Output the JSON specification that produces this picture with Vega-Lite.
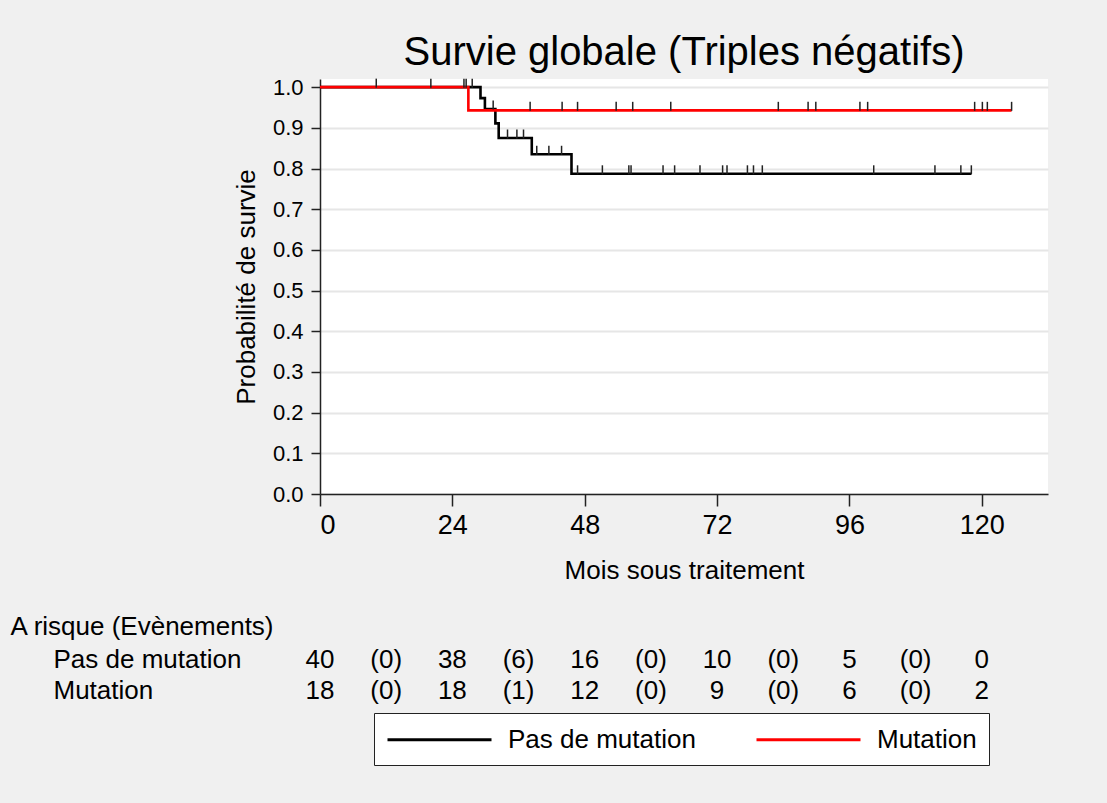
{
  "$schema": "https://vega.github.io/schema/vega-lite/v6.json",
  "autosize": {"type": "none"},
  "padding": {"left": 320, "top": 79, "right": 787, "bottom": 724},
  "background": "#f0f0f0",
  "bounds": "flush",
  "spacing": 150,
  "resolve": {"scale": {"x": "independent", "y": "independent", "color": "independent"}},
  "config": {
    "font": "Liberation Sans",
    "view": {"stroke": null},
    "axis": {"labelColor": "black", "titleColor": "black", "titleFontWeight": "normal", "domainColor": "#222222", "tickColor": "#222222", "domainWidth": 1.5, "tickWidth": 1.5}
  },
  "datasets": {
    "courbes": [
      {"groupe": "Pas de mutation", "mois": 0, "survie": 1.0},
      {"groupe": "Pas de mutation", "mois": 29.1, "survie": 0.973},
      {"groupe": "Pas de mutation", "mois": 29.9, "survie": 0.946},
      {"groupe": "Pas de mutation", "mois": 31.8, "survie": 0.911},
      {"groupe": "Pas de mutation", "mois": 32.4, "survie": 0.875},
      {"groupe": "Pas de mutation", "mois": 38.4, "survie": 0.835},
      {"groupe": "Pas de mutation", "mois": 45.6, "survie": 0.787},
      {"groupe": "Pas de mutation", "mois": 118.1, "survie": 0.787},
      {"groupe": "Mutation", "mois": 0, "survie": 1.0},
      {"groupe": "Mutation", "mois": 26.9, "survie": 0.943},
      {"groupe": "Mutation", "mois": 125.4, "survie": 0.943}
    ],
    "censures": [
      {"groupe": "Pas de mutation", "mois": 10.2, "survie": 1.0},
      {"groupe": "Pas de mutation", "mois": 20.1, "survie": 1.0},
      {"groupe": "Pas de mutation", "mois": 27.6, "survie": 1.0},
      {"groupe": "Pas de mutation", "mois": 31.4, "survie": 0.946},
      {"groupe": "Pas de mutation", "mois": 34.0, "survie": 0.875},
      {"groupe": "Pas de mutation", "mois": 35.7, "survie": 0.875},
      {"groupe": "Pas de mutation", "mois": 36.9, "survie": 0.875},
      {"groupe": "Pas de mutation", "mois": 39.3, "survie": 0.835},
      {"groupe": "Pas de mutation", "mois": 41.5, "survie": 0.835},
      {"groupe": "Pas de mutation", "mois": 43.8, "survie": 0.835},
      {"groupe": "Pas de mutation", "mois": 46.7, "survie": 0.787},
      {"groupe": "Pas de mutation", "mois": 51.2, "survie": 0.787},
      {"groupe": "Pas de mutation", "mois": 56.0, "survie": 0.787},
      {"groupe": "Pas de mutation", "mois": 56.4, "survie": 0.787},
      {"groupe": "Pas de mutation", "mois": 62.2, "survie": 0.787},
      {"groupe": "Pas de mutation", "mois": 64.3, "survie": 0.787},
      {"groupe": "Pas de mutation", "mois": 68.9, "survie": 0.787},
      {"groupe": "Pas de mutation", "mois": 73.0, "survie": 0.787},
      {"groupe": "Pas de mutation", "mois": 73.8, "survie": 0.787},
      {"groupe": "Pas de mutation", "mois": 77.5, "survie": 0.787},
      {"groupe": "Pas de mutation", "mois": 78.6, "survie": 0.787},
      {"groupe": "Pas de mutation", "mois": 80.2, "survie": 0.787},
      {"groupe": "Pas de mutation", "mois": 100.4, "survie": 0.787},
      {"groupe": "Pas de mutation", "mois": 111.5, "survie": 0.787},
      {"groupe": "Pas de mutation", "mois": 116.2, "survie": 0.787},
      {"groupe": "Pas de mutation", "mois": 118.1, "survie": 0.787},
      {"groupe": "Mutation", "mois": 26.1, "survie": 1.0},
      {"groupe": "Mutation", "mois": 26.5, "survie": 1.0},
      {"groupe": "Mutation", "mois": 38.1, "survie": 0.943},
      {"groupe": "Mutation", "mois": 43.9, "survie": 0.943},
      {"groupe": "Mutation", "mois": 46.7, "survie": 0.943},
      {"groupe": "Mutation", "mois": 53.7, "survie": 0.943},
      {"groupe": "Mutation", "mois": 56.7, "survie": 0.943},
      {"groupe": "Mutation", "mois": 63.6, "survie": 0.943},
      {"groupe": "Mutation", "mois": 83.1, "survie": 0.943},
      {"groupe": "Mutation", "mois": 88.5, "survie": 0.943},
      {"groupe": "Mutation", "mois": 89.9, "survie": 0.943},
      {"groupe": "Mutation", "mois": 97.9, "survie": 0.943},
      {"groupe": "Mutation", "mois": 99.3, "survie": 0.943},
      {"groupe": "Mutation", "mois": 118.7, "survie": 0.943},
      {"groupe": "Mutation", "mois": 120.1, "survie": 0.943},
      {"groupe": "Mutation", "mois": 121.0, "survie": 0.943},
      {"groupe": "Mutation", "mois": 125.4, "survie": 0.943}
    ],
    "risque": [
      {"groupe": "Pas de mutation", "mois": 0, "n": "40"},
      {"groupe": "Pas de mutation", "mois": 12, "n": "(0)"},
      {"groupe": "Pas de mutation", "mois": 24, "n": "38"},
      {"groupe": "Pas de mutation", "mois": 36, "n": "(6)"},
      {"groupe": "Pas de mutation", "mois": 48, "n": "16"},
      {"groupe": "Pas de mutation", "mois": 60, "n": "(0)"},
      {"groupe": "Pas de mutation", "mois": 72, "n": "10"},
      {"groupe": "Pas de mutation", "mois": 84, "n": "(0)"},
      {"groupe": "Pas de mutation", "mois": 96, "n": "5"},
      {"groupe": "Pas de mutation", "mois": 108, "n": "(0)"},
      {"groupe": "Pas de mutation", "mois": 120, "n": "0"},
      {"groupe": "Mutation", "mois": 0, "n": "18"},
      {"groupe": "Mutation", "mois": 12, "n": "(0)"},
      {"groupe": "Mutation", "mois": 24, "n": "18"},
      {"groupe": "Mutation", "mois": 36, "n": "(1)"},
      {"groupe": "Mutation", "mois": 48, "n": "12"},
      {"groupe": "Mutation", "mois": 60, "n": "(0)"},
      {"groupe": "Mutation", "mois": 72, "n": "9"},
      {"groupe": "Mutation", "mois": 84, "n": "(0)"},
      {"groupe": "Mutation", "mois": 96, "n": "6"},
      {"groupe": "Mutation", "mois": 108, "n": "(0)"},
      {"groupe": "Mutation", "mois": 120, "n": "2"}
    ]
  },
  "vconcat": [
    {
      "width": 728,
      "height": 415,
      "view": {"fill": "white", "stroke": null},
      "title": {"text": "Survie globale (Triples négatifs)", "fontSize": 40, "fontWeight": "normal", "color": "black", "anchor": "middle", "offset": 3},
      "encoding": {
        "x": {"field": "mois", "type": "quantitative", "scale": {"domain": [0, 132], "nice": false, "zero": false},
              "axis": {"values": [0, 24, 48, 72, 96, 120], "title": "Mois sous traitement", "grid": false, "tickSize": 12, "labelFontSize": 27, "labelPadding": 6, "titleFontSize": 26, "titlePadding": 19}},
        "y": {"field": "survie", "type": "quantitative", "scale": {"domain": [0, 1.02], "nice": false},
              "axis": {"values": [0, 0.1, 0.2, 0.3, 0.4, 0.5, 0.6, 0.7, 0.8, 0.9, 1.0], "format": ".1f", "title": "Probabilité de survie", "grid": true, "gridColor": "#e6e6e6", "gridWidth": 2, "tickSize": 9, "labelFontSize": 22, "labelPadding": 8, "titleFontSize": 26, "titlePadding": 13}}
      },
      "layer": [
        {
          "data": {"name": "courbes"},
          "transform": [{"filter": "datum.groupe === 'Pas de mutation'"}],
          "mark": {"type": "line", "interpolate": "step-after", "strokeWidth": 2.6},
          "encoding": {
            "color": {"field": "groupe", "type": "nominal", "scale": {"domain": ["Pas de mutation", "Mutation"], "range": ["#000000", "#ff0000"]},
                      "legend": {"orient": "none", "legendX": 54, "legendY": 634, "direction": "horizontal", "title": null, "fillColor": "white", "strokeColor": "#222222", "padding": 12, "symbolType": "M-1,0H7", "symbolSize": 676, "symbolStrokeWidth": 3, "labelFontSize": 26, "labelColor": "black", "labelOffset": 93, "columnPadding": 54, "labelLimit": 400}}
          }
        },
        {
          "data": {"name": "courbes"},
          "transform": [{"filter": "datum.groupe === 'Mutation'"}],
          "mark": {"type": "line", "interpolate": "step-after", "strokeWidth": 2.6},
          "encoding": {
            "color": {"field": "groupe", "type": "nominal", "scale": {"domain": ["Pas de mutation", "Mutation"], "range": ["#000000", "#ff0000"]}}
          }
        },
        {
          "data": {"name": "censures"},
          "mark": {"type": "tick", "orient": "vertical", "size": 9, "thickness": 1.5, "color": "#222222", "yOffset": -4, "opacity": 1}
        }
      ]
    },
    {
      "width": 728,
      "height": 62,
      "data": {"name": "risque"},
      "mark": {"type": "text", "fontSize": 26, "color": "black"},
      "encoding": {
        "x": {"field": "mois", "type": "quantitative", "scale": {"domain": [0, 132], "nice": false, "zero": false}, "axis": null},
        "y": {"field": "groupe", "type": "nominal", "scale": {"domain": ["Pas de mutation", "Mutation"]},
              "axis": {"title": "A risque (Evènements)", "titleAngle": 0, "titleAlign": "left", "titleBaseline": "middle", "titleX": -310, "titleY": -18, "titleFontSize": 26, "labelAlign": "left", "labelPadding": 267, "labelFontSize": 26, "labelBaseline": "middle", "labelLimit": 400, "domain": false, "ticks": false, "tickSize": 0, "grid": false}},
        "text": {"field": "n", "type": "nominal"}
      }
    }
  ]
}
